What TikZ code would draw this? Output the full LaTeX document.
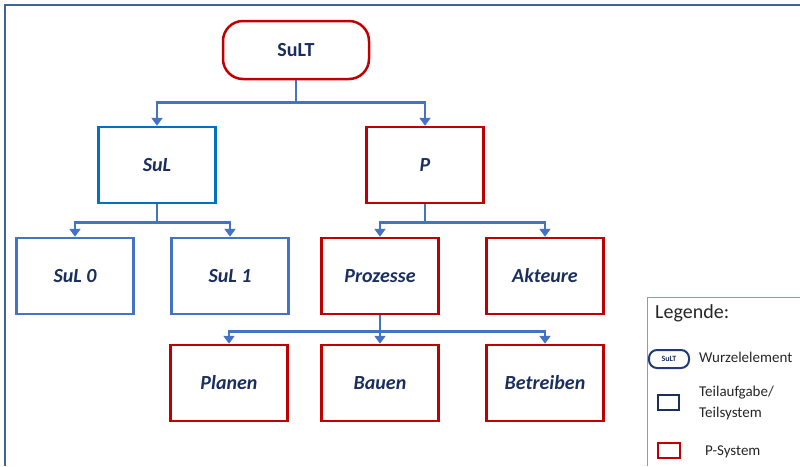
\documentclass[tikz,border=0pt]{standalone}
\usepackage{fontspec}
\setmainfont{Carlito}
\usetikzlibrary{arrows.meta,positioning}
\definecolor{pred}{HTML}{C00000}
\definecolor{lblue}{HTML}{4472C4}
\definecolor{sblue}{HTML}{0070C0}
\definecolor{tnavy}{HTML}{1A2F5F}
\definecolor{framecol}{HTML}{44639C}
\definecolor{legcol}{HTML}{8A9AB8}

\begin{document}
\begin{tikzpicture}[
    x=1pt, y=-1pt,
    box/.style={draw, line width=2.5pt, minimum width=117pt, minimum height=76pt, inner sep=0pt,
        text=tnavy, font=\fontsize{20}{24}\selectfont\bfseries\itshape},
    bluebox/.style={box, draw=lblue},
    redbox/.style={box, draw=pred},
    conn/.style={draw=lblue, line width=2.8pt, -{Triangle[length=8pt,width=11pt]}},
    legtext/.style={anchor=west, inner sep=0pt, align=left, text=black!85, font=\fontsize{15}{21}\selectfont},
]
\useasboundingbox (0,0) rectangle (800,466);

% frame
\draw[framecol, line width=1.6pt] (5,466) -- (5,5) -- (800,5);

% tree
\node[box, draw=pred, rounded corners=20pt, minimum width=146pt, minimum height=58pt,
    font=\fontsize{20}{24}\selectfont\bfseries] (SuLT) at (296,50) {SuLT};

\node[bluebox, draw=sblue] (SuL) at (157,165) {SuL};
\node[redbox] (P) at (425,165) {P};

\node[bluebox] (SuL0) at (75,276) {SuL 0};
\node[bluebox] (SuL1) at (230,276) {SuL 1};
\node[redbox] (Proz) at (380,276) {Prozesse};
\node[redbox] (Akt) at (545,276) {Akteure};

\node[redbox] (Plan) at (229,383) {Planen};
\node[redbox] (Bau) at (380,383) {Bauen};
\node[redbox] (Betr) at (545,383) {Betreiben};

\draw[conn] (SuLT.south) -- ++(0,22) -| (SuL.north);
\draw[conn] (SuLT.south) -- ++(0,22) -| (P.north);

\draw[conn] (SuL.south) -- ++(0,18) -| (SuL0.north);
\draw[conn] (SuL.south) -- ++(0,18) -| (SuL1.north);

\draw[conn] (P.south) -- ++(0,18) -| (Proz.north);
\draw[conn] (P.south) -- ++(0,18) -| (Akt.north);

\draw[conn] (Proz.south) -- ++(0,16) -| (Plan.north);
\draw[conn] (Proz.south) -- (Bau.north);
\draw[conn] (Proz.south) -- ++(0,16) -| (Betr.north);

% legend
\draw[legcol, line width=1pt] (647,466) -- (647,297) -- (800,297);
\node[legtext, font=\fontsize{20}{24}\selectfont] (legtitle) at (655,313) {Legende:};

\node[draw=tnavy!80!lblue, line width=2pt, rounded corners=8pt, minimum width=40pt, minimum height=18pt,
    inner sep=0pt, text=tnavy, font=\fontsize{8}{9}\selectfont\bfseries] (legroot) at (669,359) {SuLT};
\node[legtext] (legroottext) at (699,357) {Wurzelelement};

\node[draw=tnavy, line width=2.5pt, minimum width=21pt, minimum height=15pt, inner sep=0pt] (legsub) at (668.5,402.5) {};
\node[legtext] (legsubtext) at (699,403) {Teilaufgabe/\\Teilsystem};

\node[draw=pred, line width=2.5pt, minimum width=22pt, minimum height=15pt, inner sep=0pt] (legp) at (669,450.5) {};
\node[legtext] (legptext) at (705,452) {P-System};
\end{tikzpicture}
\end{document}
